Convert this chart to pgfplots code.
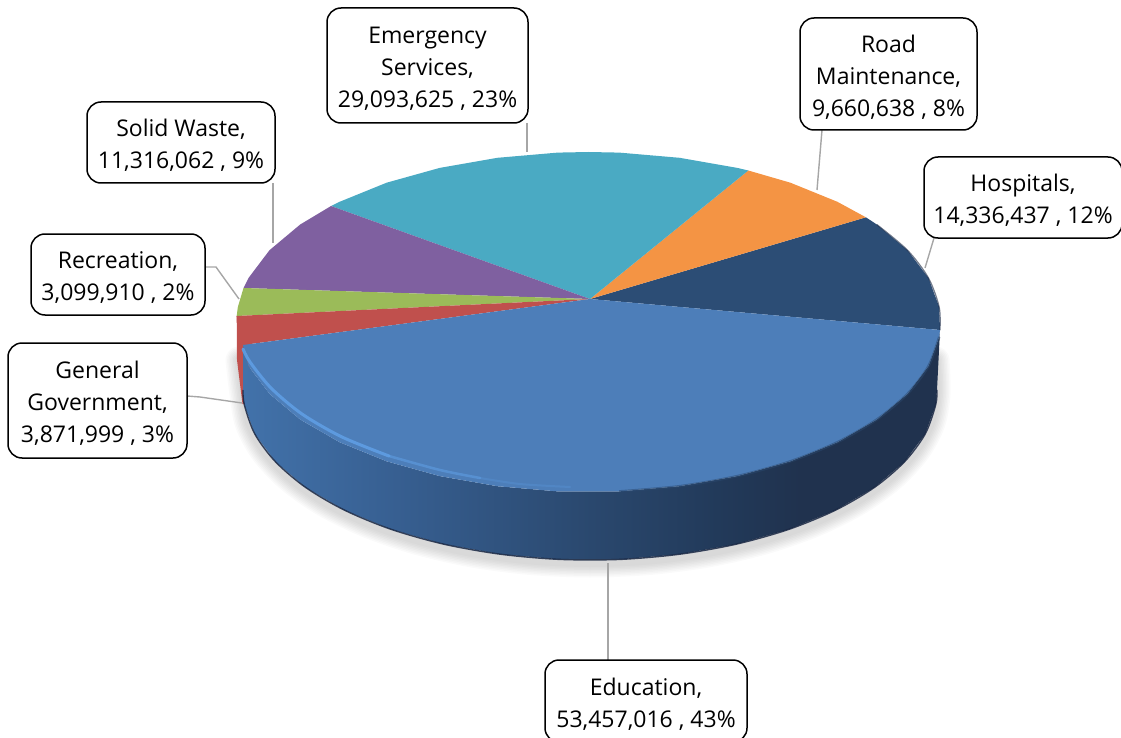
\documentclass[border=0pt]{standalone}
\usepackage{pgfplots}
\pgfplotsset{compat=1.18}
\usepackage{pgfplotstable}
\usepackage{fontspec}
\setmainfont{Open Sans}
\definecolor{cHosp}{RGB}{44,77,117}
\definecolor{cRoad}{RGB}{244,148,68}
\definecolor{cER}{RGB}{74,170,195}
\definecolor{cSolid}{RGB}{127,96,160}
\definecolor{cRec}{RGB}{155,187,89}
\definecolor{cGen}{RGB}{192,80,77}
\definecolor{cEdu}{RGB}{77,126,185}
\definecolor{cRim}{RGB}{96,160,230}
\definecolor{cLead}{RGB}{166,166,166}
\definecolor{w0}{RGB}{66,114,170}
\definecolor{w1}{RGB}{55,95,145}
\definecolor{w2}{RGB}{42,72,110}
\definecolor{w3}{RGB}{34,58,90}
\definecolor{w4}{RGB}{32,50,78}
\definecolor{cEdge}{RGB}{24,38,66}
\pgfdeclarehorizontalshading{wallb}{100bp}{
 color(0bp)=(w0); color(25bp)=(w0); color(36bp)=(w1); color(50bp)=(w2);
 color(59bp)=(w3); color(65bp)=(w4); color(100bp)=(w4)}
\pgfplotstableread{
x y
239 360
243 394
248.3 423.5
263.9 452.1
289.5 479
324.2 503.3
367 524.2
416.5 541.2
471.3 553.8
529.7 561.4
590 564
650.3 561.4
708.7 553.8
763.5 541.2
813 524.2
855.8 503.3
890.5 479
916.1 452.1
931.7 423.5
937 394
936 360
}\shadowarc
\newcommand{\lab}[5]{\node[draw=black,line width=1.5pt,rounded corners=14pt,fill=white,
  minimum width=#3pt,minimum height=#4pt,inner sep=0pt] at (axis cs:#1,#2) {};
  \node[inner sep=0pt,align=center,font=\fontsize{23}{32}\selectfont] at (axis cs:#1,#2+3) {#5};}
\begin{document}
\begin{tikzpicture}
\begin{axis}[scale only axis,width=1121pt,height=738pt,xmin=0,xmax=1121,ymin=0,ymax=738,
  y dir=reverse,hide axis,clip=true]
% soft shadow
\addplot[smooth,draw=black,opacity=0.018,line width=27pt,line cap=round] table {\shadowarc};
\addplot[smooth,draw=black,opacity=0.018,line width=24pt,line cap=round] table {\shadowarc};
\addplot[smooth,draw=black,opacity=0.018,line width=21pt,line cap=round] table {\shadowarc};
\addplot[smooth,draw=black,opacity=0.018,line width=18pt,line cap=round] table {\shadowarc};
\addplot[smooth,draw=black,opacity=0.018,line width=15pt,line cap=round] table {\shadowarc};
\addplot[smooth,draw=black,opacity=0.018,line width=12pt,line cap=round] table {\shadowarc};
\addplot[smooth,draw=black,opacity=0.018,line width=9pt,line cap=round] table {\shadowarc};
\addplot[smooth,draw=black,opacity=0.018,line width=6pt,line cap=round] table {\shadowarc};
% red sliver beside the wall
\addplot[fill=cGen,draw=none] coordinates {(236.7,316)(237,360)(242.5,404)(250,404)(250,340)} -- cycle;
% wall
\addplot[shading=wallb,draw=none] coordinates {
(243,345)(248.5,366)(269.5,393.8)(300.2,419.5)(339.6,442.2)(386.6,461.3)(439.7,476.1)(497.4,486.2)(557.8,491.4)
(619.2,491.4)(679.6,486.2)(737.3,476.1)(790.4,461.3)(837.4,442.2)(876.8,419.5)(907.5,393.8)(928.5,366)(939.2,336.8)(940,330)
(937,390)(935.7,404.8)(925.2,434)(904.5,461.8)(874.3,487.5)(835.4,510.2)(789,529.3)(736.6,544.1)(679.8,554.2)(620.3,559.4)
(559.7,559.4)(500.2,554.2)(443.4,544.1)(391,529.3)(344.6,510.2)(305.7,487.5)(275.5,461.8)(254.8,434)(244.3,404.8)(243,390)} -- cycle;
\addplot[smooth,draw=cEdge,opacity=0.85,line width=1.4pt] coordinates {
(243,390)(244.3,404.8)(254.8,434)(275.5,461.8)(305.7,487.5)(344.6,510.2)(391,529.3)(443.4,544.1)(500.2,554.2)(559.7,559.4)
(620.3,559.4)(679.8,554.2)(736.6,544.1)(789,529.3)(835.4,510.2)(874.3,487.5)(904.5,461.8)(925.2,434)(935.7,404.8)(937,390)};
% top face
\addplot[fill=cHosp,draw=none] coordinates {(590,299)(940,330)(939.2,307.2)(928.5,278)(907.5,250.2)(876.8,224.5)(865.9,217.3)} -- cycle;
\addplot[fill=cRoad,draw=none] coordinates {(590,299)(865.9,217.3)(837.4,201.8)(790.4,182.7)(748.3,170.5)} -- cycle;
\addplot[fill=cER,draw=none] coordinates {(590,299)(748.3,170.5)(737.3,167.9)(679.6,157.8)(619.2,152.6)(588.5,152)(557.8,152.6)(497.4,157.8)(439.7,167.9)(386.6,182.7)(339.6,201.8)(331,206)} -- cycle;
\addplot[fill=cSolid,draw=none] coordinates {(590,299)(331,206)(300.2,224.5)(269.5,250.2)(248.5,278)(243.5,288)} -- cycle;
\addplot[fill=cRec,draw=none] coordinates {(590,299)(243.5,288)(237.8,307.2)(236.7,316)} -- cycle;
\addplot[fill=cGen,draw=none] coordinates {(590,299)(236.7,316)(237.8,336.8)(239.8,345)(243,345)} -- cycle;
\addplot[fill=cEdu,draw=none] coordinates {(590,299)(243,345)(248.5,366)(269.5,393.8)(300.2,419.5)(339.6,442.2)(386.6,461.3)(439.7,476.1)(497.4,486.2)(557.8,491.4)
(619.2,491.4)(679.6,486.2)(737.3,476.1)(790.4,461.3)(837.4,442.2)(876.8,419.5)(907.5,393.8)(928.5,366)(939.2,336.8)(940,330)} -- cycle;
% bevel highlight
\addplot[smooth,draw=cRim,opacity=0.85,line width=3pt,line cap=round] coordinates {(243,349)(250,362)(271,388)(302,414)(342,437)(389,456)};
\addplot[smooth,draw=cRim,opacity=0.55,line width=2.5pt,line cap=round] coordinates {(389,456)(440,470)(480,478)};
\addplot[smooth,draw=cRim,opacity=0.25,line width=2pt,line cap=round] coordinates {(480,478)(520,484)(570,487)};
% softened edge on the right
\addplot[smooth,draw=w2,opacity=0.5,line width=2.5pt] coordinates {(619.2,491.4)(679.6,486.2)(737.3,476.1)(790.4,461.3)(837.4,442.2)(876.8,419.5)(907.5,393.8)(928.5,366)(939.2,336.8)};
% dark edge on the upper right
\addplot[smooth,draw=cEdge,opacity=0.6,line width=1.2pt] coordinates {(876.8,224.5)(907.5,250.2)(928.5,278)(939.2,307.2)(940,330)};
% leader lines
\addplot[draw=cLead,line width=1.4pt] coordinates {(934,238)(925,268)};
\addplot[draw=cLead,line width=1.4pt] coordinates {(822,130)(817,190)};
\addplot[draw=cLead,line width=1.4pt] coordinates {(527,123)(527,152)};
\addplot[draw=cLead,line width=1.4pt] coordinates {(273,183)(273,243)};
\addplot[draw=cLead,line width=1.4pt] coordinates {(205,267)(216,267)(239,299)};
\addplot[draw=cLead,line width=1.4pt] coordinates {(187,396)(200,397)(242,403)};
\addplot[draw=cLead,line width=1.4pt] coordinates {(608,563)(608,660)};
% labels
\lab{427.5}{65.5}{201}{115}{Emergency\\Services,\\29,093,625 , 23\%}
\lab{888.5}{74}{177}{112}{Road\\Maintenance,\\9,660,638 , 8\%}
\lab{1023}{197.5}{198}{81}{Hospitals,\\14,336,437 , 12\%}
\lab{181}{142.5}{188}{81}{Solid Waste,\\11,316,062 , 9\%}
\lab{118}{274.5}{174}{81}{Recreation,\\3,099,910 , 2\%}
\lab{97.5}{400.5}{179}{115}{General\\Government,\\3,871,999 , 3\%}
\lab{646}{701}{202}{82}{Education,\\53,457,016 , 43\%}
\end{axis}
\pgfresetboundingbox
\path[use as bounding box] (current axis.south west) rectangle (current axis.north east);
\end{tikzpicture}
\end{document}
